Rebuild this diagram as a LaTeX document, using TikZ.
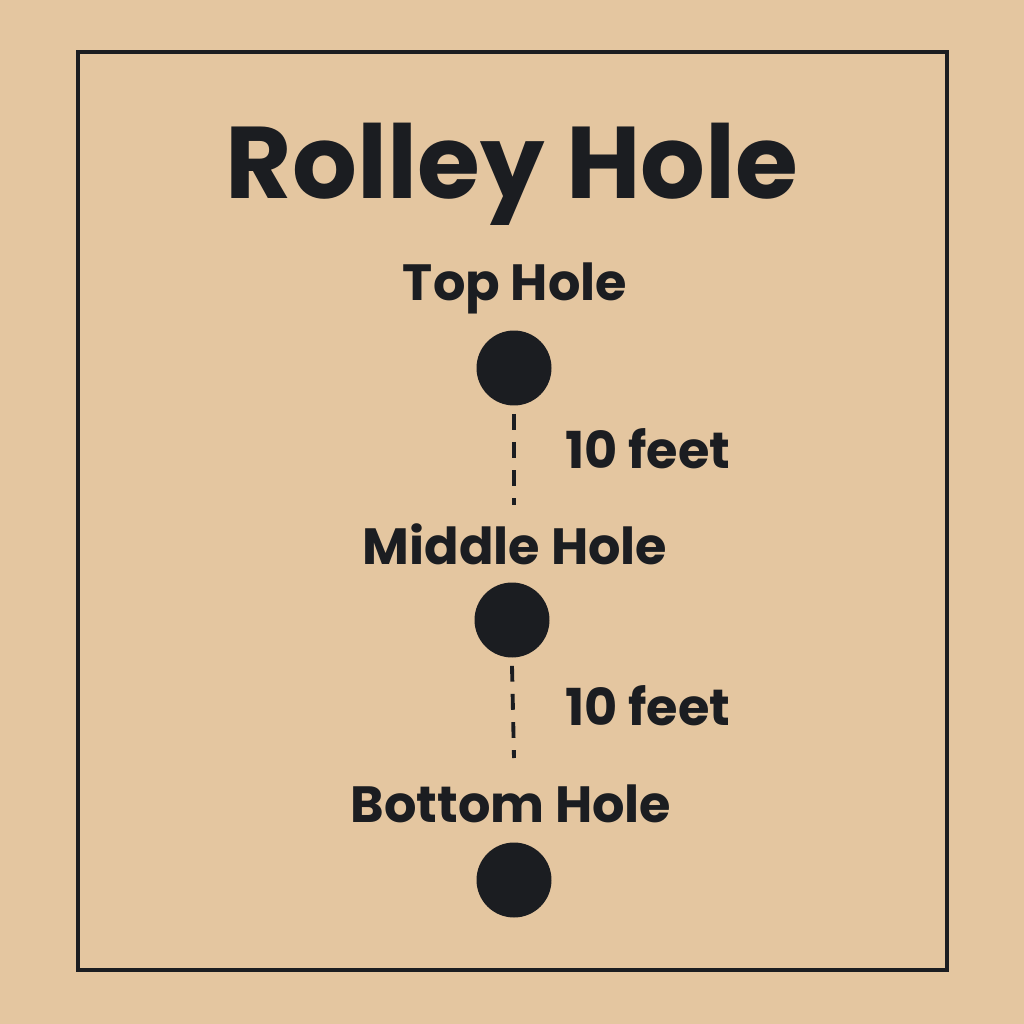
\documentclass[tikz,border=0pt]{standalone}
\usepackage{fontspec}
\setmainfont{Poppins}
\usepackage{xcolor}
\usetikzlibrary{positioning}
\definecolor{paper}{RGB}{228,198,160}
\definecolor{ink}{RGB}{27,29,33}

\begin{document}
\begin{tikzpicture}[x=0.02cm, y=-0.02cm,
    hole/.style={circle, fill=ink, minimum size=1.5cm, inner sep=0pt},
    holelabel/.style={font=\fontsize{29}{31}\selectfont\bfseries, text=ink, inner sep=0pt},
    gap/.style={ink, line width=2.2pt, dash pattern=on 9pt off 7pt}]
                \fill[paper] (0,0) rectangle (1024,1024);
                \useasboundingbox (0,0) rectangle (1024,1024);
                \draw[ink, line width=1.8pt] (78,52) rectangle (947,970);

                \node[font=\fontsize{58}{60}\selectfont\bfseries, text=ink, inner sep=0pt] (title) at (512,174) {Rolley Hole};

                \node[holelabel] (toplabel) at (515,288) {Top Hole};
                \node[hole] (top) at (514,368) {};
                \node[holelabel] (midlabel) at (515,544) {Middle Hole};
                \node[hole] (middle) at (512,620) {};
                \node[holelabel] (botlabel) at (511,804) {Bottom Hole};
                \node[hole] (bottom) at (514,880) {};

                \coordinate (gapa) at (514,505);
                \coordinate (gapb) at (514,758);
                \draw[gap] (top.south) ++(0,8) -- (gapa);
                \draw[gap] (middle.south) ++(0,8) -- (gapb);

                \node[holelabel, anchor=west] (dista) at (565,449) {10 feet};
                \node[holelabel, anchor=west] (distb) at (565,706) {10 feet};
            \end{tikzpicture}
\end{document}
